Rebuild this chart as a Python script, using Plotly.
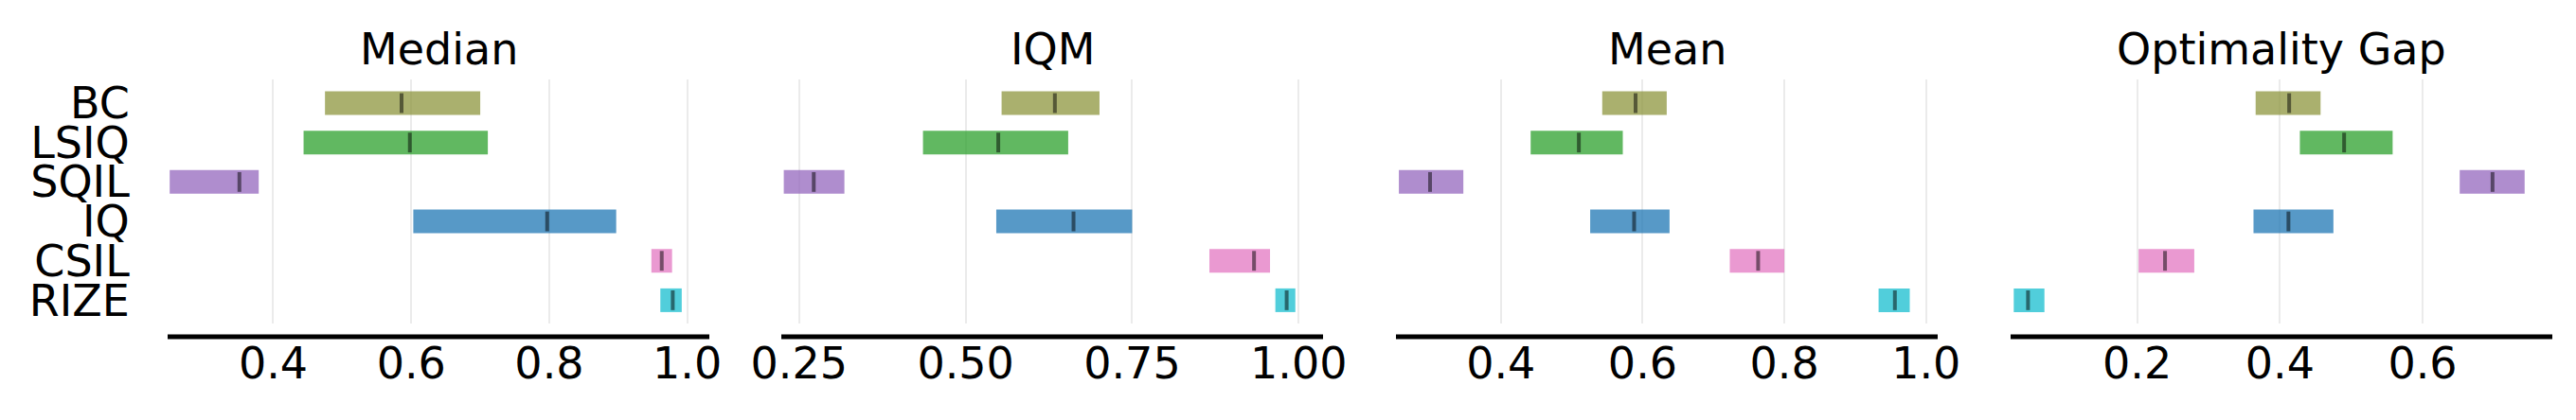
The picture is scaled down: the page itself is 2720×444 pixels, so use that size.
import plotly.graph_objects as go

# algorithms, top to bottom
algorithms = ["BC", "LSIQ", "SQIL", "IQ", "CSIL", "RIZE"]
colors = [
    "rgba(142,150,62,0.75)",
    "rgba(44,160,44,0.75)",
    "rgba(148,103,189,0.75)",
    "rgba(31,119,180,0.75)",
    "rgba(227,119,194,0.75)",
    "rgba(23,190,207,0.75)",
]

metrics = ["Median", "IQM", "Mean", "Optimality Gap"]

# interval estimates: (low, point, high)
median_low = [0.475, 0.444, 0.250, 0.603, 0.948, 0.961]
median_mid = [0.586, 0.598, 0.351, 0.797, 0.963, 0.979]
median_high = [0.700, 0.711, 0.379, 0.897, 0.978, 0.992]

iqm_low = [0.554, 0.436, 0.227, 0.546, 0.866, 0.965]
iqm_mid = [0.634, 0.549, 0.272, 0.662, 0.933, 0.982]
iqm_high = [0.701, 0.654, 0.318, 0.750, 0.957, 0.995]

mean_low = [0.543, 0.442, 0.256, 0.526, 0.723, 0.933]
mean_mid = [0.590, 0.510, 0.300, 0.588, 0.763, 0.956]
mean_high = [0.634, 0.572, 0.347, 0.638, 0.800, 0.977]

gap_low = [0.366, 0.428, 0.652, 0.363, 0.202, 0.027]
gap_mid = [0.413, 0.490, 0.698, 0.412, 0.239, 0.047]
gap_high = [0.457, 0.558, 0.743, 0.475, 0.280, 0.070]

tick_vals = [
    [0.4, 0.6, 0.8, 1.0],
    [0.25, 0.50, 0.75, 1.00],
    [0.4, 0.6, 0.8, 1.0],
    [0.2, 0.4, 0.6],
]
tick_text = [
    ["0.4", "0.6", "0.8", "1.0"],
    ["0.25", "0.50", "0.75", "1.00"],
    ["0.4", "0.6", "0.8", "1.0"],
    ["0.2", "0.4", "0.6"],
]
x_ranges = [[0.247, 1.032], [0.2233, 1.0366], [0.2519, 1.0164], [0.0226, 0.7818]]

lows = [median_low, iqm_low, mean_low, gap_low]
mids = [median_mid, iqm_mid, mean_mid, gap_mid]
highs = [median_high, iqm_high, mean_high, gap_high]

# the page body has an 8px margin, so the figure is a bit smaller
# and every page position is shifted by that margin
PAD = 8
W, H = 2720 - 2 * PAD, 444 - 2 * PAD
FONT = "DejaVu Sans"
FS = 46

panel_left = [177 - PAD, 825 - PAD, 1474 - PAD, 2123 - PAD]
panel_w = 572
plot_top, plot_bottom, axis_y = 84 - PAD, 342 - PAD, 356 - PAD
title_y = 52 - PAD

fig = go.Figure()
layout = {}
rows = list(range(len(algorithms)))

for k in range(4):
    sfx = "" if k == 0 else str(k + 1)
    xa, ya = "x" + sfx, "y" + sfx

    fig.add_trace(go.Bar(
        y=rows,
        x=[h - l for l, h in zip(lows[k], highs[k])],
        base=lows[k],
        orientation="h",
        width=0.6,
        marker=dict(color=colors, line=dict(width=0)),
        xaxis=xa, yaxis=ya,
        showlegend=False,
        hoverinfo="skip",
    ))

    # point estimate ticks
    lx, ly = [], []
    for i, m in enumerate(mids[k]):
        lx += [m, m, None]
        ly += [i - 0.25, i + 0.25, None]
    fig.add_trace(go.Scatter(
        x=lx, y=ly, mode="lines",
        line=dict(color="rgba(0,0,0,0.5)", width=4),
        xaxis=xa, yaxis=ya,
        showlegend=False, hoverinfo="skip",
    ))

    x0 = panel_left[k] / W
    x1 = (panel_left[k] + panel_w) / W
    layout["xaxis" + sfx] = dict(
        domain=[x0, x1],
        anchor=ya,
        automargin=False,
        range=x_ranges[k],
        tickvals=tick_vals[k],
        ticktext=tick_text[k],
        showgrid=True, gridcolor="#ebebeb", gridwidth=2,
        zeroline=False, showline=False,
        ticks="outside", ticklen=2, tickcolor="rgba(0,0,0,0)",
        tickfont=dict(family=FONT, size=FS, color="black"),
    )
    layout["yaxis" + sfx] = dict(
        domain=[1 - plot_bottom / H, 1 - plot_top / H],
        anchor=xa,
        automargin=False,
        range=[5.59, -0.6],
        tickvals=rows,
        ticktext=algorithms if k == 0 else [""] * len(rows),
        showticklabels=(k == 0),
        showgrid=False, zeroline=False, showline=False,
        ticks="outside" if k == 0 else "", ticklen=30, tickcolor="rgba(0,0,0,0)",
        tickfont=dict(family=FONT, size=FS, color="black"),
    )

    # offset bottom spine
    fig.add_shape(
        type="line", xref=xa + " domain", yref="paper",
        x0=0, x1=1, y0=1 - axis_y / H, y1=1 - axis_y / H,
        line=dict(color="black", width=5),
    )

    fig.add_annotation(
        text=metrics[k], xref="paper", yref="paper",
        x=(x0 + x1) / 2, y=1 - title_y / H,
        xanchor="center", yanchor="middle", showarrow=False,
        font=dict(family=FONT, size=FS, color="black"),
    )

fig.update_layout(
    width=W, height=H,
    margin=dict(l=0, r=0, t=0, b=0, autoexpand=False),
    paper_bgcolor="white",
    plot_bgcolor="white",
    barmode="overlay",
    **layout,
)

fig.write_html("out.html")
